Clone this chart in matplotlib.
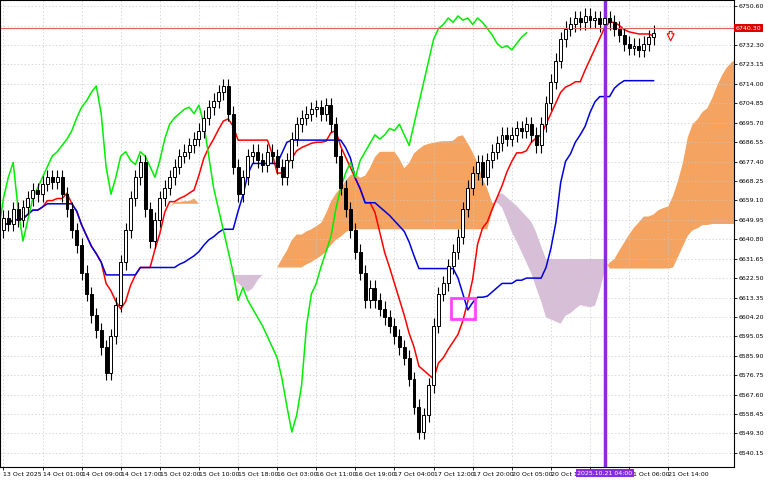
import matplotlib
matplotlib.use("Agg")
import matplotlib.pyplot as plt
import numpy as np
from matplotlib.patches import Rectangle

closes = [6651,6648,6655,6650,6656,6660,6664,6662,6667,6670,6668,6670,6662,6655,6645,6638,6625,6615,6605,6598,
          6590,6578,6595,6610,6630,6645,6660,6670,6677,6655,6640,6650,6660,6665,6670,6675,6680,6682,6685,6688,
          6692,6698,6703,6706,6710,6713,6700,6675,6662,6670,6680,6682,6678,6676,6682,6680,6675,6670,6678,6688,
          6695,6698,6700,6702,6703,6700,6704,6695,6680,6665,6655,6645,6635,6625,6612,6618,6612,6608,6604,6600,
          6595,6590,6585,6575,6562,6550,6558,6572,6600,6615,6620,6628,6635,6642,6655,6665,6672,6677,6670,6678,
          6682,6686,6690,6688,6690,6693,6692,6695,6690,6685,6695,6705,6715,6725,6735,6740,6742,6745,6743,6746,
          6744,6745,6742,6745,6743,6740,6737,6733,6731,6732,6730,6733,6736,6738]
first_open = 6645
tick_labels = ["13 Oct 2025","14 Oct 01:00","14 Oct 09:00","14 Oct 17:00","15 Oct 02:00","15 Oct 10:00",
               "15 Oct 18:00","16 Oct 03:00","16 Oct 11:00","16 Oct 19:00","17 Oct 04:00","17 Oct 12:00",
               "17 Oct 20:00","20 Oct 05:00","20 Oct 13:00","20 Oct 21:00","21 Oct 06:00","21 Oct 14:00"]
price_ticks = [6750.60,6741.45,6732.30,6723.15,6714.00,6704.85,6695.70,6686.55,6677.40,6668.25,6659.10,6649.95,
               6640.80,6631.65,6622.50,6613.35,6604.20,6595.05,6585.90,6576.75,6567.60,6558.45,6549.30,6540.15]
current_price = 6740.30
vline_bar = 123

c = np.array(closes, float)
o = np.concatenate([[first_open], c[:-1]])
wick = 3.5
h = np.maximum(o, c) + wick
l = np.minimum(o, c) - wick
n = len(c)

def mid(period):
    out = np.full(n, np.nan)
    for i in range(n):
        s = max(0, i - period + 1)
        out[i] = (h[s:i+1].max() + l[s:i+1].min()) / 2
    return out
tenkan = mid(9); kijun = mid(26)
spanA = (tenkan + kijun) / 2
spanB = mid(52)
xs = np.arange(n) + 26

fig = plt.figure(figsize=(7.68, 4.8), dpi=100)
ax = fig.add_axes([0.0, 0.027, 0.956, 0.973])
ax.set_xlim(-0.7, 149.5)
ax.set_ylim(6533.5, 6753.5)

ax.fill_between(xs, spanA, spanB, where=spanA >= spanB, color="#F4A460", interpolate=True, lw=0)
ax.fill_between(xs, spanA, spanB, where=spanA < spanB, color="#D8BFD8", interpolate=True, lw=0)

idx = np.arange(n)
ax.plot(idx, tenkan, color="red", lw=1.1)
ax.plot(idx, kijun, color="#0000DD", lw=1.1)
ax.plot(idx - 26, c, color="#00EE00", lw=1.1)

for i in range(n):
    ax.vlines(i, l[i], h[i], color="black", lw=0.8)
    up = c[i] >= o[i]
    bot = min(o[i], c[i]); ht = max(abs(c[i]-o[i]), 0.4)
    ax.add_patch(Rectangle((i-0.3, bot), 0.6, ht, facecolor="white" if up else "black",
                           edgecolor="black", lw=0.7, zorder=3))

ax.axhline(current_price, color="#E06060", lw=0.8)
ax.axvline(vline_bar, color="#8A2BE2", lw=2.5)
ax.add_patch(Rectangle((91.5, 6603), 5, 10, fill=False, edgecolor="#FF44FF", lw=2, zorder=4))
ax.annotate("", xy=(136.5, 6733), xytext=(136.5, 6740), arrowprops=dict(arrowstyle="simple", fc="white", ec="red", lw=0.8))

ax.grid(True, color="#C8C8C8", ls=(0, (2, 3)), lw=0.5)
ax.yaxis.tick_right()
ax.set_yticks(price_ticks)
ax.set_yticklabels([f"{p:.2f}" for p in price_ticks], fontsize=4.5)
ax.set_xticks(np.arange(len(tick_labels)) * 8)
ax.set_xticklabels(tick_labels, fontsize=4.5, ha="left")
ax.tick_params(length=2.5, pad=1, width=0.6)
for s in ax.spines.values():
    s.set_linewidth(0.8)
ax.text(1.002, current_price, f"{current_price:.2f}", transform=ax.get_yaxis_transform(), fontsize=4.5,
        color="white", va="center", ha="left", bbox=dict(fc="#DD0000", ec="none", pad=1), zorder=5)
ax.text(vline_bar, -0.008, "2025.10.21 04:00", transform=ax.get_xaxis_transform(), fontsize=4.5, color="white",
        ha="center", va="top", bbox=dict(fc="#8A2BE2", ec="none", pad=1), zorder=5)
fig.savefig("out.png", dpi=100)
